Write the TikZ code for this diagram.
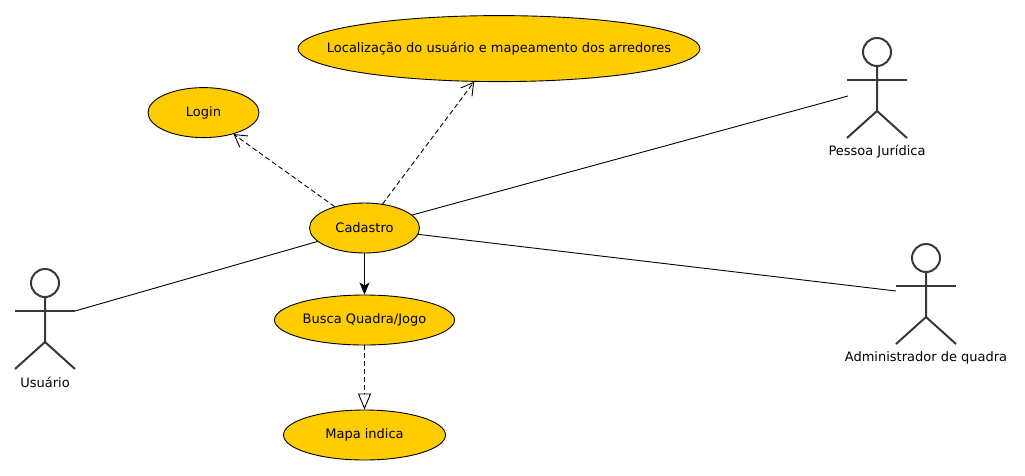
\documentclass[tikz,border=0pt]{standalone}
\usepackage{fontspec}
\setmainfont{DejaVu Sans}
\usetikzlibrary{shapes.geometric,arrows.meta}
\definecolor{usecase}{HTML}{FFCC00}
\definecolor{actorline}{HTML}{383838}
\tikzset{
  >={Stealth[length=12pt,width=10pt,inset=3pt]},
  usecase/.style = {
    ellipse, draw=black, fill=usecase, line width=0.9pt,
    inner sep=0pt, font=\fontsize{13}{15}\selectfont
  },
  actorbody/.style = {draw=actorline, line width=2pt},
  actorlabel/.style = {font=\fontsize{13}{15}\selectfont},
  assoc/.style = {line width=0.9pt},
  depend/.style = {line width=0.9pt, dash pattern=on 5pt off 3pt, -{Straight Barb[length=12pt,width=14pt,line width=0.9pt]}},
  realize/.style = {line width=0.9pt, dash pattern=on 5pt off 3pt, -{Triangle[open,length=16pt,width=13pt]}}
}
% #1 name, #2 x, #3 y (head centre), #4 label
\newcommand{\actor}[4]{
  \node[actorbody, circle, fill=white, minimum size=28pt, inner sep=0pt] (#1head) at (#2,#3) {};
  \draw[actorbody] (#1head.south) -- ++(0,44) coordinate (#1hip) -- ++(-30,27);
  \draw[actorbody] (#1hip) -- ++(30,27);
  \draw[actorbody] (#2-30,#3+28) -- (#2+30,#3+28);
  \node[actorlabel] (#1) at (#2,#3+99.7) {#4};
}

\begin{document}
\begin{tikzpicture}[x=1pt,y=-1pt]
  \useasboundingbox (0,0) rectangle (1025,475);
  % use cases
  \node[usecase, inner xsep=-30pt, minimum width=402pt, minimum height=66pt] (local) at (499,48.6) {Localização do usuário e mapeamento dos arredores};
  \node[usecase, minimum width=111pt, minimum height=50pt] (login) at (203.5,112.6) {Login};
  \node[usecase, minimum width=110pt, minimum height=50pt] (cadastro) at (364.5,228) {Cadastro};
  \node[usecase, minimum width=180pt, minimum height=50pt] (busca) at (364.5,320) {Busca Quadra/Jogo};
  \node[usecase, minimum width=162pt, minimum height=50pt] (mapa) at (364.5,435) {Mapa indica};
  % actors
  \actor{usuario}{45}{283}{Usuário}
  \actor{pessoa}{877}{52}{Pessoa Jurídica}
  \actor{admin}{926}{258}{Administrador de quadra}
  \coordinate (usuariohand) at (75,311);
  \coordinate (pessoahand) at (848,96);
  \coordinate (adminhand) at (896,291);
  % connectors
  \draw[assoc] (usuariohand) -- (cadastro);
  \draw[assoc] (pessoahand) -- (cadastro);
  \draw[assoc] (adminhand) -- (cadastro);
  \draw[depend] (cadastro) -- (login);
  \draw[depend] (cadastro) -- (local);
  \draw[assoc,->] (cadastro) -- (busca);
  \draw[realize] (busca) -- (mapa);
\end{tikzpicture}
\end{document}
